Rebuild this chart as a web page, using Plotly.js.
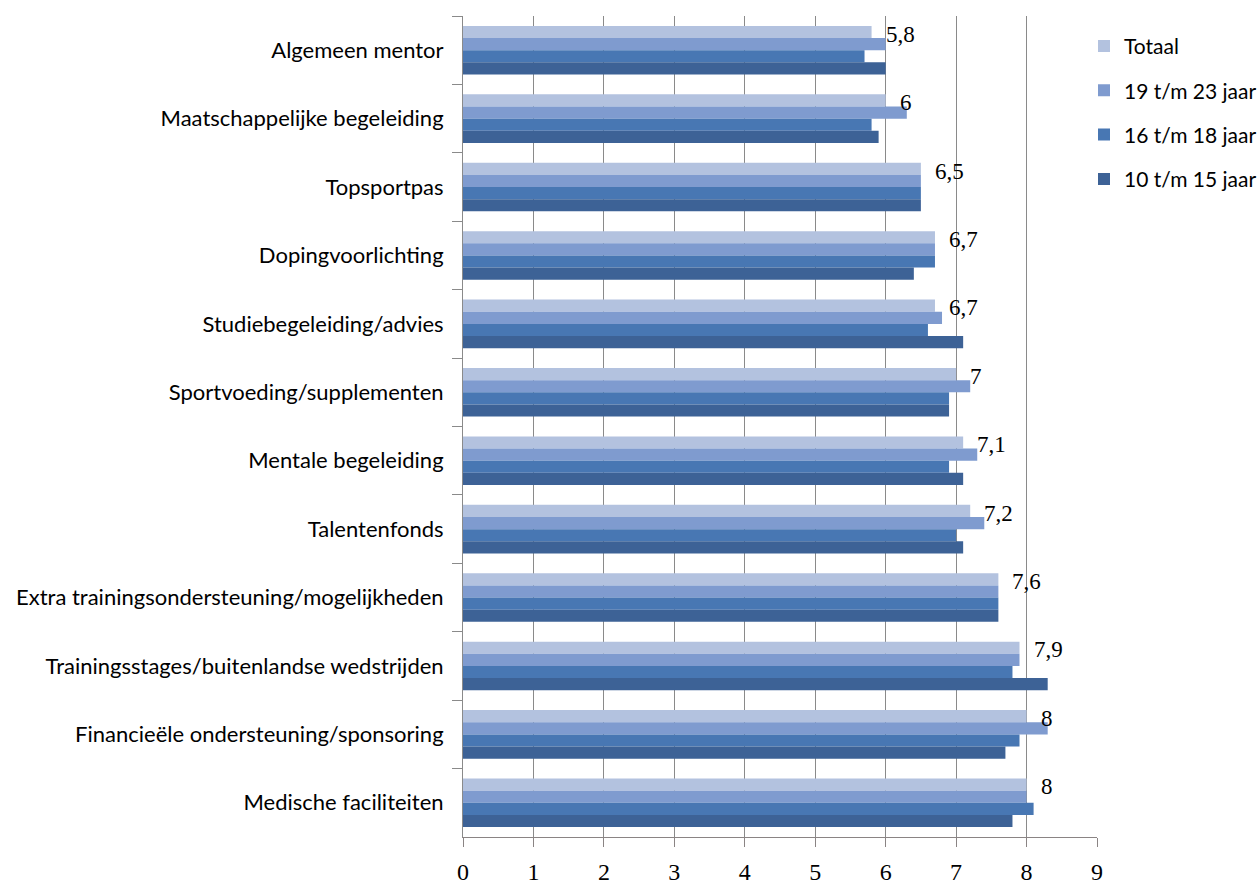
<!DOCTYPE html>
<html>
<head>
<meta charset="utf-8">
<script src="https://cdn.plot.ly/plotly-3.0.1.min.js"></script>
<style>
  html, body { margin: 0; padding: 0; background: #ffffff; }
  #chart { width: 1260px; height: 885px; }
</style>
</head>
<body>
<div id="chart"></div>
<script>
// Waardering van voorzieningen, per leeftijdsgroep (schaal 0-9)
const categories = [
  "Algemeen mentor",
  "Maatschappelijke begeleiding",
  "Topsportpas",
  "Dopingvoorlichting",
  "Studiebegeleiding/advies",
  "Sportvoeding/supplementen",
  "Mentale begeleiding",
  "Talentenfonds",
  "Extra trainingsondersteuning/mogelijkheden",
  "Trainingsstages/buitenlandse wedstrijden",
  "Financieële ondersteuning/sponsoring",
  "Medische faciliteiten"
];

const totaal   = [5.8, 6.0, 6.5, 6.7, 6.7, 7.0, 7.1, 7.2, 7.6, 7.9, 8.0, 8.0];
const age19_23 = [6.0, 6.3, 6.5, 6.7, 6.8, 7.2, 7.3, 7.4, 7.6, 7.9, 8.3, 8.0];
const age16_18 = [5.7, 5.8, 6.5, 6.7, 6.6, 6.9, 6.9, 7.0, 7.6, 7.8, 7.9, 8.1];
const age10_15 = [6.0, 5.9, 6.5, 6.4, 7.1, 6.9, 7.1, 7.1, 7.6, 8.3, 7.7, 7.8];

const seriesNames = ["Totaal", "19 t/m 23 jaar", "16 t/m 18 jaar", "10 t/m 15 jaar"];
const seriesValues = [totaal, age19_23, age16_18, age10_15];
const seriesColors = ["#b3c2df", "#7f9bcf", "#4877b3", "#3d6296"];

const xTicks = [0, 1, 2, 3, 4, 5, 6, 7, 8, 9];

const traces = seriesNames.map((name, i) => ({
  type: "bar",
  orientation: "h",
  name: name,
  legendgroup: "g" + i,
  x: seriesValues[i],
  y: categories,
  marker: { color: seriesColors[i], line: { width: 0 } },
  hoverinfo: "x+name"
}));

// Waardelabels bij de balk "Totaal"
const annotations = totaal.map((v, i) => ({
  x: v,
  y: categories[i],
  xref: "x",
  yref: "y",
  text: String(v).replace(".", ","),
  showarrow: false,
  xanchor: "left",
  yanchor: "middle",
  xshift: 12,
  yshift: 16,
  font: { family: "Liberation Serif, serif", size: 23, color: "#000000" }
}));

const layout = {
  width: 1260,
  height: 885,
  paper_bgcolor: "#ffffff",
  plot_bgcolor: "#ffffff",
  margin: { l: 463, r: 163, t: 16, b: 48, pad: 0, autoexpand: false },
  barmode: "group",
  bargap: 0.29,
  bargroupgap: 0,
  font: { family: "Lato, sans-serif", color: "#000000" },
  showlegend: true,
  legend: {
    x: 0.9795,
    xanchor: "left",
    y: 0.988,
    yanchor: "top",
    traceorder: "grouped",
    tracegroupgap: 14,
    bgcolor: "rgba(0,0,0,0)",
    borderwidth: 0,
    font: { family: "Lato, sans-serif", size: 21, color: "#000000" }
  },
  xaxis: {
    range: [0, 9],
    tickmode: "array",
    tickvals: xTicks,
    ticktext: xTicks.map(String),
    showgrid: true,
    gridcolor: "#8a8a8a",
    gridwidth: 1,
    zeroline: false,
    showline: true,
    linecolor: "#8a8484",
    linewidth: 1,
    ticks: "outside",
    ticklen: 9,
    tickcolor: "#8a8484",
    ticklabelstandoff: 4,
    tickfont: { family: "Liberation Serif, serif", size: 24, color: "#000000" },
    fixedrange: true
  },
  yaxis: {
    type: "category",
    autorange: "reversed",
    showgrid: false,
    zeroline: false,
    showline: true,
    linecolor: "#8a8a8a",
    linewidth: 1,
    ticks: "outside",
    tickson: "boundaries",
    ticklen: 10,
    tickcolor: "#8a8a8a",
    ticklabelstandoff: 14,
    tickfont: { family: "Lato, sans-serif", size: 22, color: "#000000" },
    fixedrange: true
  },
  annotations: annotations
};

Plotly.newPlot("chart", traces, layout, { displayModeBar: false, staticPlot: true });
</script>
</body>
</html>
